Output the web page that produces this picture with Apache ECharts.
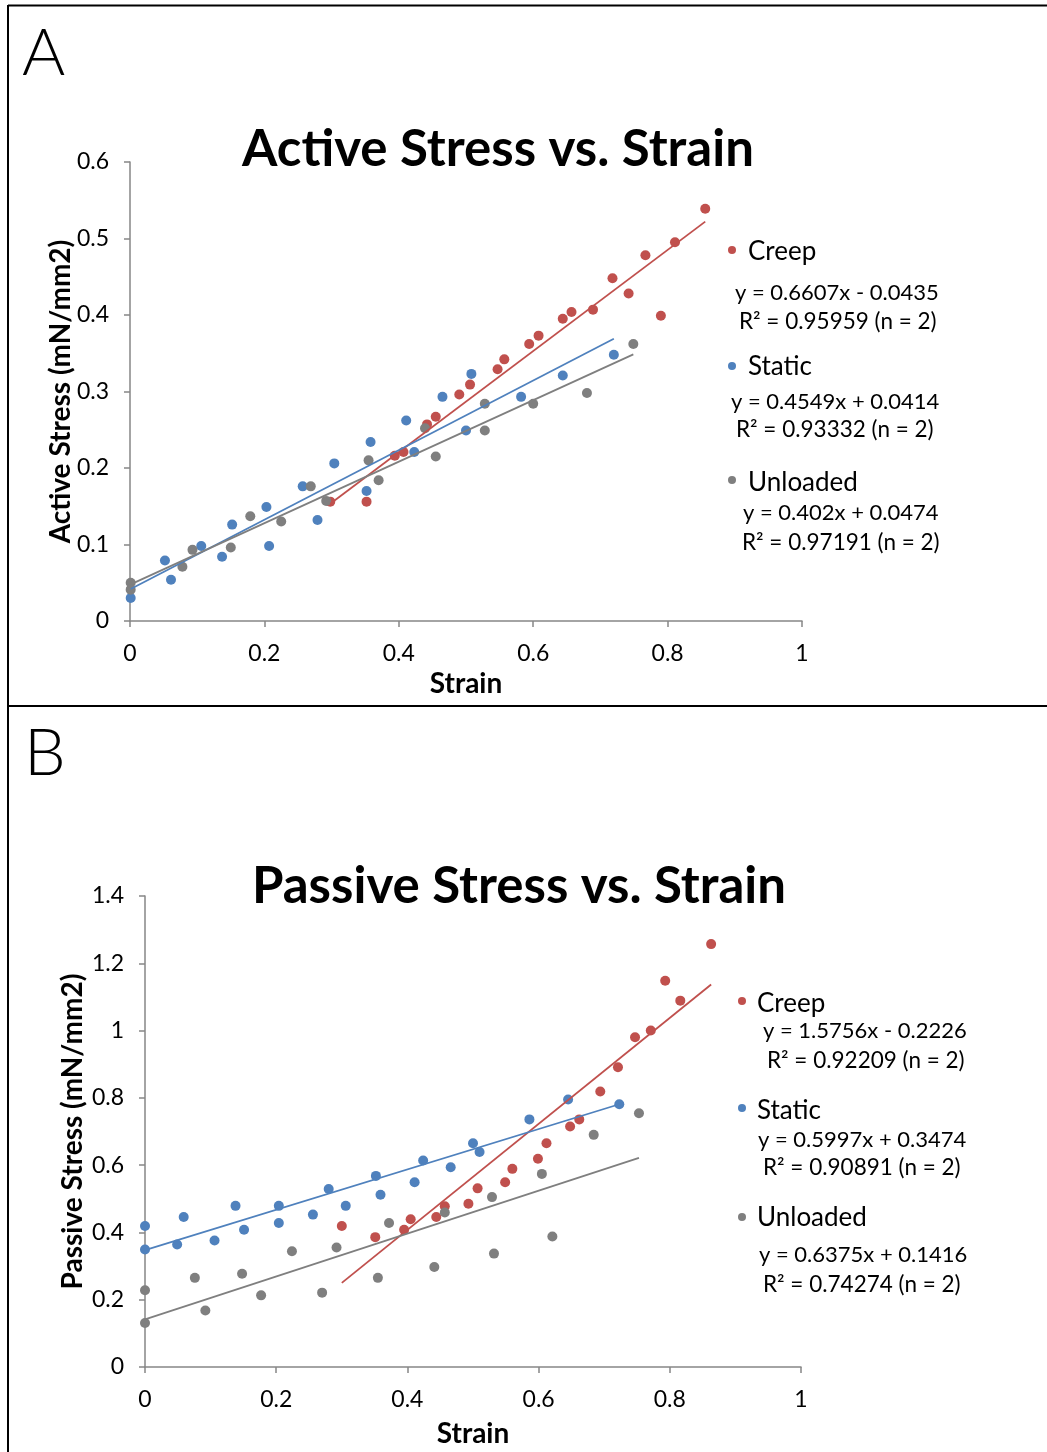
<!DOCTYPE html>
<html>
<head>
<meta charset="utf-8">
<script src="https://cdn.jsdelivr.net/npm/echarts@6/dist/echarts.min.js"></script>
<style>
  html, body { margin: 0; padding: 0; background: #ffffff; }
  #chart { width: 1047px; height: 1452px; }
</style>
</head>
<body>
<div id="chart"></div>
<script>
// ---- data -------------------------------------------------------------
const seriesNames = ['Creep', 'Static', 'Unloaded'];

// Active stress (mN/mm2) vs. strain, [strain, stress]
const activeCreep = [
  [0.298, 0.156], [0.352, 0.156], [0.394, 0.216], [0.407, 0.221], [0.442, 0.257],
  [0.455, 0.267], [0.490, 0.296], [0.506, 0.309], [0.547, 0.329], [0.557, 0.342],
  [0.594, 0.362], [0.608, 0.373], [0.644, 0.395], [0.657, 0.404], [0.689, 0.407],
  [0.718, 0.448], [0.742, 0.428], [0.767, 0.478], [0.790, 0.399], [0.811, 0.495],
  [0.856, 0.539]
];
const activeStatic = [
  [0.001, 0.030], [0.052, 0.079], [0.061, 0.054], [0.106, 0.098], [0.137, 0.084],
  [0.152, 0.126], [0.203, 0.149], [0.207, 0.098], [0.257, 0.176], [0.279, 0.132],
  [0.304, 0.206], [0.352, 0.170], [0.358, 0.234], [0.411, 0.262], [0.423, 0.221],
  [0.465, 0.293], [0.508, 0.323], [0.500, 0.249], [0.582, 0.293], [0.644, 0.321],
  [0.720, 0.348]
];
const activeUnloaded = [
  [0.001, 0.050], [0.001, 0.041], [0.078, 0.071], [0.093, 0.093], [0.150, 0.096],
  [0.179, 0.137], [0.225, 0.130], [0.269, 0.176], [0.292, 0.157], [0.355, 0.210],
  [0.370, 0.184], [0.439, 0.252], [0.455, 0.215], [0.528, 0.284], [0.528, 0.249],
  [0.600, 0.284], [0.680, 0.298], [0.749, 0.362]
];

// Passive stress (mN/mm2) vs. strain, [strain, stress]
const passiveCreep = [
  [0.300, 0.419], [0.351, 0.386], [0.395, 0.408], [0.405, 0.439], [0.444, 0.446],
  [0.457, 0.478], [0.493, 0.485], [0.507, 0.531], [0.549, 0.549], [0.560, 0.589],
  [0.599, 0.619], [0.612, 0.665], [0.648, 0.715], [0.662, 0.736], [0.694, 0.819],
  [0.721, 0.891], [0.747, 0.980], [0.771, 1.000], [0.793, 1.148], [0.816, 1.089],
  [0.863, 1.257]
];
const passiveStatic = [
  [0.000, 0.419], [0.000, 0.349], [0.049, 0.364], [0.059, 0.446], [0.106, 0.376],
  [0.138, 0.479], [0.151, 0.408], [0.204, 0.479], [0.204, 0.428], [0.256, 0.453],
  [0.280, 0.529], [0.306, 0.479], [0.352, 0.568], [0.359, 0.512], [0.411, 0.549],
  [0.424, 0.614], [0.466, 0.594], [0.500, 0.665], [0.510, 0.639], [0.586, 0.736],
  [0.645, 0.795], [0.723, 0.781]
];
const passiveUnloaded = [
  [0.000, 0.228], [0.000, 0.131], [0.076, 0.265], [0.092, 0.168], [0.148, 0.277],
  [0.177, 0.213], [0.224, 0.344], [0.270, 0.221], [0.292, 0.355], [0.355, 0.265],
  [0.372, 0.428], [0.441, 0.297], [0.457, 0.459], [0.529, 0.505], [0.532, 0.337],
  [0.605, 0.574], [0.621, 0.388], [0.684, 0.690], [0.753, 0.754]
];

// Linear fits [slope, intercept] and R² per series
const activeFits = [[0.6607, -0.0435], [0.4549, 0.0414], [0.402, 0.0474]];
const activeR2 = ['0.95959', '0.93332', '0.97191'];
const passiveFits = [[1.5756, -0.2226], [0.5997, 0.3474], [0.6375, 0.1416]];
const passiveR2 = ['0.92209', '0.90891', '0.74274'];
const fitN = 2;

// axis ranges
const strainAxis = { min: 0, max: 1, interval: 0.2 };
const activeAxis = { min: 0, max: 0.6, interval: 0.1 };
const passiveAxis = { min: 0, max: 1.4, interval: 0.2 };

// ---- styling ------------------------------------------------------------
const colors = ['#C0504D', '#4F81BD', '#7F7F7F'];
const FONT = 'Lato, "Open Sans", sans-serif';
const AXIS_GREY = '#868686';

function fitLine(points, fit) {
  const xs = points.map(p => p[0]);
  const x0 = Math.min.apply(null, xs), x1 = Math.max.apply(null, xs);
  return [[x0, fit[0] * x0 + fit[1]], [x1, fit[0] * x1 + fit[1]]];
}
function eqText(fit) {
  const b = fit[1];
  return 'y = ' + fit[0] + 'x ' + (b < 0 ? '- ' : '+ ') + Math.abs(b);
}

const nameStyle = { fontFamily: FONT, fontSize: 28, fontWeight: 'bold', color: '#000' };
const tickLabelStyle = { show: true, margin: 21, fontFamily: FONT, fontSize: 23, color: '#000' };

function xAxisFor(gridIndex, nameGap) {
  return {
    type: 'value', gridIndex: gridIndex,
    min: strainAxis.min, max: strainAxis.max, interval: strainAxis.interval,
    name: 'Strain', nameLocation: 'middle', nameGap: nameGap, nameMoveOverlap: false,
    nameTextStyle: nameStyle,
    axisLine: { show: true, onZero: false, lineStyle: { color: AXIS_GREY, width: 1.5 } },
    axisTick: { show: true, inside: false, length: 6, lineStyle: { color: AXIS_GREY, width: 1.5 } },
    axisLabel: tickLabelStyle,
    splitLine: { show: false }
  };
}
function yAxisFor(gridIndex, range, name, nameGap) {
  return {
    type: 'value', gridIndex: gridIndex,
    min: range.min, max: range.max, interval: range.interval,
    name: name, nameLocation: 'middle', nameGap: nameGap, nameRotate: 90, nameMoveOverlap: false,
    nameTextStyle: nameStyle,
    axisLine: { show: true, onZero: false, lineStyle: { color: AXIS_GREY, width: 1.5 } },
    axisTick: { show: true, inside: false, length: 6, lineStyle: { color: AXIS_GREY, width: 1.5 } },
    axisLabel: tickLabelStyle,
    splitLine: { show: false }
  };
}

function panelSeries(gridIndex, sets, fits) {
  const out = [];
  sets.forEach((pts, i) => {
    out.push({
      type: 'scatter', name: seriesNames[i], xAxisIndex: gridIndex, yAxisIndex: gridIndex,
      data: pts, symbol: 'circle', symbolSize: 10,
      itemStyle: { color: colors[i], opacity: 1 }, z: 2, silent: true
    });
  });
  sets.forEach((pts, i) => {
    out.push({
      type: 'line', name: seriesNames[i] + ' fit', xAxisIndex: gridIndex, yAxisIndex: gridIndex,
      data: fitLine(pts, fits[i]), showSymbol: false, symbol: 'none',
      lineStyle: { color: colors[i], width: 1.8 }, z: 3, silent: true, animation: false
    });
  });
  return out;
}

// legend block: dot + name, then fit equation and R² lines
function legendBlock(fits, r2, rows) {
  const g = [];
  rows.forEach((r, i) => {
    g.push({ type: 'circle', shape: { cx: r.dot[0], cy: r.dot[1], r: 4 }, style: { fill: colors[i] } });
    g.push({ type: 'text', x: r.name[0], y: r.name[1],
      style: { text: seriesNames[i], font: '26px ' + FONT, fill: '#000', verticalAlign: 'middle' } });
    g.push({ type: 'text', x: r.eq[0], y: r.eq[1],
      style: { text: eqText(fits[i]), font: '22px ' + FONT, fill: '#000', verticalAlign: 'middle' } });
    g.push({ type: 'text', x: r.r2[0], y: r.r2[1],
      style: { text: 'R\u00B2 = ' + r2[i] + ' (n = ' + fitN + ')', font: '22.5px ' + FONT, fill: '#000', verticalAlign: 'middle' } });
  });
  return g;
}

const graphics = [
  // panel frame and divider
  { type: 'line', shape: { x1: 8, y1: 5.5, x2: 1047, y2: 5.5 }, style: { stroke: '#000', lineWidth: 2 } },
  { type: 'line', shape: { x1: 8, y1: 5, x2: 8, y2: 1452 }, style: { stroke: '#000', lineWidth: 2 } },
  { type: 'line', shape: { x1: 8, y1: 706, x2: 1047, y2: 706 }, style: { stroke: '#000', lineWidth: 2 } },
  // panel letters
  { type: 'text', x: 22, y: 54, style: { text: 'A', font: '300 66px ' + FONT, fill: '#000', verticalAlign: 'middle' } },
  { type: 'text', x: 24, y: 754, style: { text: 'B', font: '300 66px ' + FONT, fill: '#000', verticalAlign: 'middle' } }
].concat(
  legendBlock(activeFits, activeR2, [
    { dot: [732, 250], name: [748, 252], eq: [735, 293], r2: [739, 322] },
    { dot: [732, 366], name: [748, 367], eq: [731, 402], r2: [736, 430] },
    { dot: [732, 480], name: [748, 483], eq: [743, 513], r2: [742, 543] }
  ]),
  legendBlock(passiveFits, passiveR2, [
    { dot: [742, 1001], name: [757, 1004], eq: [763, 1031], r2: [767, 1061] },
    { dot: [742, 1108], name: [757, 1111], eq: [758, 1140], r2: [763, 1168] },
    { dot: [742, 1217], name: [757, 1218], eq: [759, 1255], r2: [763, 1285] }
  ])
);

const chart = echarts.init(document.getElementById('chart'), null, { renderer: 'canvas' });
chart.setOption({
  backgroundColor: '#ffffff',
  animation: false,
  title: [
    { text: 'Active Stress vs. Strain', left: 493, top: 119, textAlign: 'center',
      textStyle: { fontFamily: FONT, fontSize: 51, fontWeight: 'bold', color: '#000' } },
    { text: 'Passive Stress vs. Strain', left: 514, top: 856, textAlign: 'center',
      textStyle: { fontFamily: FONT, fontSize: 51, fontWeight: 'bold', color: '#000' } }
  ],
  grid: [
    { left: 130, top: 162, width: 672, height: 459, containLabel: false },
    { left: 145, top: 896, width: 656, height: 471, containLabel: false }
  ],
  xAxis: [xAxisFor(0, 49), xAxisFor(1, 53)],
  yAxis: [
    yAxisFor(0, activeAxis, 'Active Stress (mN/mm2)', 55),
    yAxisFor(1, passiveAxis, 'Passive Stress (mN/mm2)', 58)
  ],
  series: panelSeries(0, [activeCreep, activeStatic, activeUnloaded], activeFits)
    .concat(panelSeries(1, [passiveCreep, passiveStatic, passiveUnloaded], passiveFits)),
  graphic: graphics
});
</script>
</body>
</html>
